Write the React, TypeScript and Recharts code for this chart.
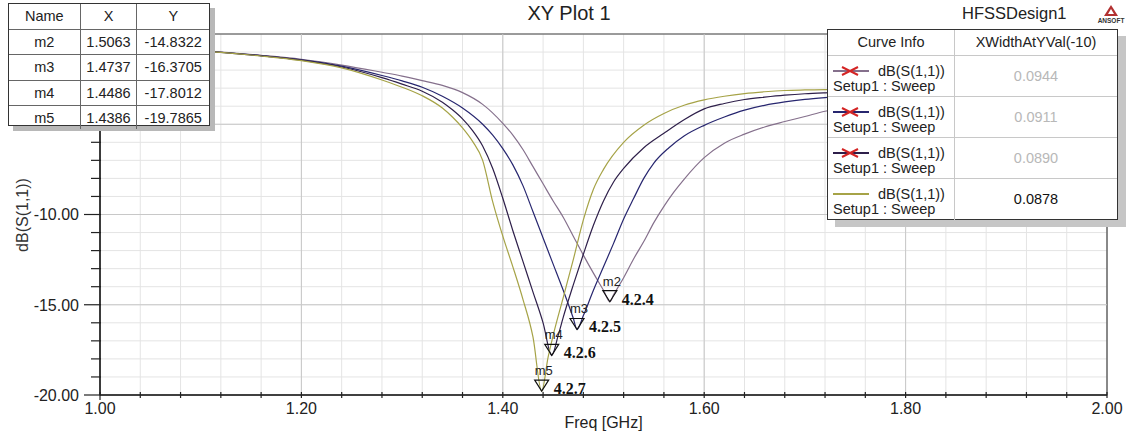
import React from 'react';
import {
  LineChart,
  Line,
  XAxis,
  YAxis,
  CartesianGrid,
  ReferenceLine,
  ReferenceArea,
  ReferenceDot,
} from 'recharts';

// ---------------------------------------------------------------------------
// axis ticks
// ---------------------------------------------------------------------------
const freqTicksMajor = [1.0, 1.2, 1.4, 1.6, 1.8, 2.0];
const freqTicksMinor = [
  1.0, 1.04, 1.08, 1.12, 1.16, 1.2, 1.24, 1.28, 1.32, 1.36, 1.4, 1.44, 1.48,
  1.52, 1.56, 1.6, 1.64, 1.68, 1.72, 1.76, 1.8, 1.84, 1.88, 1.92, 1.96, 2.0,
];
const dbTicksMajor = [-20, -15, -10, -5, 0];
const dbTicksMinor = [
  -20, -19, -18, -17, -16, -15, -14, -13, -12, -11, -10, -9, -8, -7, -6, -5,
  -4, -3, -2, -1, 0,
];

// ---------------------------------------------------------------------------
// curves (Freq [GHz] / dB(S(1,1)))
// ---------------------------------------------------------------------------
const freq424 = [
  1.0, 1.04, 1.08, 1.12, 1.16, 1.2, 1.24, 1.28, 1.3, 1.32, 1.34, 1.36, 1.38,
  1.4, 1.41, 1.42, 1.43, 1.44, 1.45, 1.46, 1.47, 1.48, 1.49, 1.5, 1.5063, 1.51,
  1.52, 1.53, 1.54, 1.55, 1.56, 1.57, 1.58, 1.6, 1.62, 1.64, 1.66, 1.68, 1.7,
  1.72, 1.76, 1.8, 1.85, 1.9, 1.95, 2.0,
];
const db424 = [
  -0.7, -0.78, -0.88, -1.0, -1.18, -1.4, -1.72, -2.12, -2.33, -2.58, -2.85,
  -3.25, -3.9, -4.95, -5.6, -6.4, -7.35, -8.3, -9.25, -10.15, -11.2, -12.25,
  -13.25, -14.2, -14.83, -14.45, -13.5, -12.45, -11.5, -10.45, -9.55, -8.75,
  -8.05, -6.85, -6.05, -5.55, -5.15, -4.85, -4.57, -4.28, -3.95, -3.72, -3.55,
  -3.45, -3.4, -3.38,
];

const freq425 = [
  1.0, 1.04, 1.08, 1.12, 1.16, 1.2, 1.24, 1.28, 1.3, 1.32, 1.34, 1.36, 1.38,
  1.39, 1.4, 1.41, 1.42, 1.43, 1.44, 1.45, 1.46, 1.47, 1.4737, 1.48, 1.49, 1.5,
  1.51, 1.52, 1.53, 1.54, 1.55, 1.565, 1.58, 1.6, 1.62, 1.64, 1.66, 1.68, 1.7,
  1.72, 1.76, 1.8, 1.85, 1.9, 1.95, 2.0,
];
const db425 = [
  -0.7, -0.78, -0.88, -1.01, -1.2, -1.43, -1.78, -2.3, -2.6, -2.95, -3.45,
  -4.1, -5.0, -5.6, -6.35, -7.25, -8.4, -9.85, -11.3, -12.75, -14.2, -15.75,
  -16.37, -15.6, -14.2, -12.9, -11.6, -10.25, -9.1, -8.0, -7.15, -6.3, -5.65,
  -5.06, -4.6, -4.22, -3.95, -3.76, -3.62, -3.52, -3.38, -3.3, -3.25, -3.25,
  -3.28, -3.32,
];

const freq426 = [
  1.0, 1.04, 1.08, 1.12, 1.16, 1.2, 1.24, 1.28, 1.3, 1.32, 1.34, 1.35, 1.36,
  1.37, 1.38, 1.39, 1.4, 1.41, 1.42, 1.43, 1.44, 1.4486, 1.455, 1.46, 1.47,
  1.48, 1.49, 1.5, 1.51, 1.52, 1.54, 1.56, 1.58, 1.6, 1.62, 1.64, 1.66, 1.68,
  1.7, 1.72, 1.76, 1.8, 1.85, 1.9, 1.95, 2.0,
];
const db426 = [
  -0.7, -0.78, -0.88, -1.02, -1.21, -1.45, -1.83, -2.42, -2.78, -3.17, -3.78,
  -4.2, -4.7, -5.35, -6.2, -7.45, -9.1, -10.9, -12.6, -14.3, -16.0, -17.8,
  -16.7, -15.7, -13.9, -12.2, -10.6, -9.25, -8.2, -7.45, -6.3, -5.5, -4.75,
  -4.15, -3.85, -3.63, -3.5, -3.39, -3.31, -3.26, -3.2, -3.18, -3.2, -3.24,
  -3.3, -3.36,
];

const freq427 = [
  1.0, 1.04, 1.08, 1.12, 1.16, 1.2, 1.24, 1.28, 1.3, 1.32, 1.34, 1.35, 1.36,
  1.37, 1.38, 1.39, 1.4, 1.41, 1.42, 1.43, 1.4386, 1.445, 1.45, 1.46, 1.47,
  1.48, 1.49, 1.5, 1.52, 1.54, 1.56, 1.58, 1.6, 1.62, 1.64, 1.66, 1.68, 1.7,
  1.72, 1.76, 1.8, 1.85, 1.9, 1.95, 2.0,
];
const db427 = [
  -0.7, -0.78, -0.88, -1.02, -1.22, -1.48, -1.88, -2.55, -2.95, -3.42, -4.1,
  -4.6, -5.2, -5.95, -7.0, -9.3, -11.2, -12.9, -14.7, -16.8, -19.79, -17.9,
  -16.7, -14.6, -12.5, -10.3, -8.6, -7.5, -6.0, -5.05, -4.4, -3.95, -3.65,
  -3.45, -3.3, -3.2, -3.13, -3.1, -3.08, -3.08, -3.12, -3.18, -3.25, -3.32,
  -3.4,
];

const curveColors = ['#85708c', '#27266f', '#2e1f4a', '#a6a347'];
const xWidthValues = ['0.0944', '0.0911', '0.0890', '0.0878'];

// markers
const markerNames = ['m2', 'm3', 'm4', 'm5'];
const markerX = [1.5063, 1.4737, 1.4486, 1.4386];
const markerY = [-14.8322, -16.3705, -17.8012, -19.7865];
const markerTags = ['4.2.4', '4.2.5', '4.2.6', '4.2.7'];

const toRows = (freq: number[], db: number[]) => freq.map((f, i) => ({ f, db: db[i] }));

const curves = [
  toRows(freq424, db424),
  toRows(freq425, db425),
  toRows(freq426, db426),
  toRows(freq427, db427),
];

const SANS = '"Liberation Sans", Arial, sans-serif';
const SERIF = '"Liberation Serif", "Times New Roman", serif';

const isMajor = (list: number[], v: number) => list.some((t) => Math.abs(t - v) < 1e-6);

// ---------------------------------------------------------------------------
// ticks
// ---------------------------------------------------------------------------
function FreqTick(props: any) {
  const { x, y, payload } = props;
  const major = isMajor(freqTicksMajor, payload.value);
  return (
    <g>
      <line x1={x} x2={x} y1={y - 3} y2={y + (payload.value === 1 ? 5 : 3)} stroke="#222" strokeWidth={1.2} />
      {major && (
        <text x={x} y={y + 19} textAnchor="middle" fontSize={16} fill="#222">
          {payload.value.toFixed(2)}
        </text>
      )}
    </g>
  );
}

function DbTick(props: any) {
  const { x, y, payload } = props;
  const major = isMajor(dbTicksMajor, payload.value);
  return (
    <g>
      <line x1={x - (major ? 16 : 9)} x2={x + 1} y1={y} y2={y} stroke="#222" strokeWidth={1.2} />
      {major && (
        <text x={x - 21} y={y} dy="0.36em" textAnchor="end" fontSize={16} fill="#222">
          {payload.value.toFixed(2)}
        </text>
      )}
    </g>
  );
}

function MarkerShape(props: any) {
  const { cx, cy, markerName, tag } = props;
  return (
    <g>
      <polygon
        points={`${cx - 7},${cy - 11} ${cx + 7},${cy - 11} ${cx},${cy}`}
        fill="none"
        stroke="#111"
        strokeWidth={1.2}
      />
      <text x={cx - 7} y={cy - 16} fontSize={13} fill="#222">
        {markerName}
      </text>
      <text x={cx + 12} y={cy + 3} fontSize={16} fontWeight="bold" fontFamily={SERIF} fill="#111">
        {tag}
      </text>
    </g>
  );
}

// ---------------------------------------------------------------------------
// overlays
// ---------------------------------------------------------------------------
function MarkerTable() {
  const cols = [72, 57, 73];
  const cell = (w: number, last: boolean, content: React.ReactNode, key: string) => (
    <div
      key={key}
      style={{
        width: w,
        textAlign: 'center',
        borderRight: last ? 'none' : '1px solid #666',
        lineHeight: '24px',
      }}
    >
      {content}
    </div>
  );
  const rows = [['Name', 'X', 'Y']].concat(
    markerNames.map((n, i) => [n, markerX[i].toFixed(4), markerY[i].toFixed(4)])
  );
  return (
    <div
      style={{
        position: 'absolute',
        left: 8,
        top: 3,
        width: 202,
        height: 123,
        boxSizing: 'border-box',
        border: '1.5px solid #333',
        background: '#fff',
        boxShadow: '5px 5px 0 #b8b8b8',
        fontSize: 14.5,
        color: '#222',
      }}
    >
      {rows.map((r, ri) => (
        <div
          key={ri}
          style={{
            display: 'flex',
            height: ri === rows.length - 1 ? 23 : 24.5,
            borderBottom: ri === rows.length - 1 ? 'none' : '1px solid #666',
            overflow: 'hidden',
          }}
        >
          {r.map((c, ci) => cell(cols[ci], ci === 2, c, `${ri}-${ci}`))}
        </div>
      ))}
    </div>
  );
}

function LegendBox() {
  return (
    <div
      style={{
        position: 'absolute',
        left: 827,
        top: 29,
        width: 291,
        height: 191,
        boxSizing: 'border-box',
        border: '1.5px solid #333',
        background: '#fff',
        boxShadow: '8px 7px 0 #c6c6c6',
        fontSize: 14.5,
        color: '#222',
      }}
    >
      <div style={{ display: 'flex', height: 25, borderBottom: '1px solid #c8c8c8' }}>
        <div style={{ width: 126, borderRight: '1px solid #c8c8c8', textAlign: 'center', lineHeight: '25px' }}>
          Curve Info
        </div>
        <div style={{ flex: 1, textAlign: 'center', lineHeight: '25px' }}>XWidthAtYVal(-10)</div>
      </div>
      {curveColors.map((color, i) => (
        <div
          key={i}
          style={{
            display: 'flex',
            height: 41,
            borderBottom: i === 3 ? 'none' : '1px solid #c8c8c8',
            boxSizing: 'border-box',
          }}
        >
          <div style={{ width: 126, borderRight: '1px solid #c8c8c8', position: 'relative' }}>
            <svg width={36} height={10} style={{ position: 'absolute', left: 5, top: 10 }}>
              <line x1={0} y1={5} x2={36} y2={5} stroke={color} strokeWidth={2} />
              {i < 3 && (
                <path d="M9 1 L17 5 L9 9 M25 1 L17 5 L25 9" stroke="#d42424" strokeWidth={2} fill="none" />
              )}
            </svg>
            <div style={{ position: 'absolute', left: 50, top: 6, lineHeight: '18px', whiteSpace: 'nowrap' }}>
              dB(S(1,1))
            </div>
            <div style={{ position: 'absolute', left: 5, top: 21, lineHeight: '18px', whiteSpace: 'nowrap' }}>
              Setup1 : Sweep
            </div>
          </div>
          <div
            style={{
              flex: 1,
              textAlign: 'center',
              lineHeight: '40px',
              color: i === 3 ? '#111' : '#b8b8b8',
            }}
          >
            {xWidthValues[i]}
          </div>
        </div>
      ))}
    </div>
  );
}

function AnsoftLogo() {
  return (
    <div style={{ position: 'absolute', left: 1096, top: 4, width: 30, height: 22 }}>
      <svg width={30} height={14} style={{ position: 'absolute', left: 0, top: 0 }}>
        <polygon points="15,1 22,12 8,12" fill="#b23030" />
        <polygon points="15,5 18,10 12,10" fill="#fff" />
      </svg>
      <div
        style={{
          position: 'absolute',
          left: 0,
          top: 13,
          width: 30,
          textAlign: 'center',
          fontSize: 6.5,
          fontWeight: 'bold',
          color: '#333',
          lineHeight: '8px',
        }}
      >
        ANSOFT
      </div>
    </div>
  );
}

// ---------------------------------------------------------------------------
// chart
// ---------------------------------------------------------------------------
export default function App() {
  return (
    <div
      style={{
        position: 'absolute',
        left: 0,
        top: 0,
        width: 1139,
        height: 441,
        background: '#fff',
        fontFamily: SANS,
        overflow: 'hidden',
      }}
    >
      <LineChart width={1139} height={441} margin={{ top: 34, right: 32, bottom: 0, left: 0 }}>
        <CartesianGrid stroke="#e4e4e4" strokeWidth={1} />
        <XAxis
          type="number"
          dataKey="f"
          domain={[1, 2]}
          ticks={freqTicksMinor}
          interval={0}
          allowDataOverflow
          height={46}
          tickSize={0}
          tickMargin={0}
          tickLine={false}
          tick={(p: any) => <FreqTick {...p} />}
          axisLine={{ stroke: '#222', strokeWidth: 1.5 }}
          label={{ value: 'Freq [GHz]', position: 'insideBottom', offset: 13, fill: '#222', fontSize: 16 }}
        />
        <YAxis
          type="number"
          domain={[-20, 0]}
          ticks={dbTicksMinor}
          interval={0}
          allowDataOverflow
          width={100}
          tickSize={0}
          tickMargin={0}
          tickLine={false}
          tick={(p: any) => <DbTick {...p} />}
          axisLine={{ stroke: '#222', strokeWidth: 1.5 }}
        />
        {freqTicksMajor.slice(1, -1).map((t) => (
          <ReferenceLine key={`vx${t}`} x={t} stroke="#c8c8c8" strokeWidth={1} />
        ))}
        {dbTicksMajor.slice(1, -1).map((t) => (
          <ReferenceLine key={`hy${t}`} y={t} stroke="#c8c8c8" strokeWidth={1} />
        ))}
        <ReferenceArea x1={1} x2={2} y1={-20} y2={0} fill="none" stroke="#444" strokeWidth={1.2} />
        {curves.map((rows, i) => (
          <Line
            key={i}
            data={rows}
            dataKey="db"
            type="monotone"
            stroke={curveColors[i]}
            strokeWidth={1.2}
            dot={false}
            activeDot={false}
            isAnimationActive={false}
          />
        ))}
        {markerNames.map((n, i) => (
          <ReferenceDot
            key={n}
            x={markerX[i]}
            y={markerY[i]}
            r={0}
            shape={(p: any) => <MarkerShape {...p} markerName={n} tag={markerTags[i]} />}
          />
        ))}
      </LineChart>

      {/* titles */}
      <div
        style={{
          position: 'absolute',
          left: 469,
          top: 1,
          width: 200,
          textAlign: 'center',
          fontSize: 20,
          lineHeight: '24px',
          color: '#222',
        }}
      >
        XY Plot 1
      </div>
      <div style={{ position: 'absolute', left: 962, top: 3, fontSize: 16.5, lineHeight: '20px', color: '#222' }}>
        HFSSDesign1
      </div>
      <AnsoftLogo />

      {/* y axis label */}
      <div
        style={{
          position: 'absolute',
          left: 23 - 60,
          top: 215 - 10,
          width: 120,
          height: 20,
          lineHeight: '20px',
          textAlign: 'center',
          fontSize: 16,
          color: '#333',
          transform: 'rotate(-90deg)',
        }}
      >
        dB(S(1,1))
      </div>

      <MarkerTable />
      <LegendBox />
    </div>
  );
}
